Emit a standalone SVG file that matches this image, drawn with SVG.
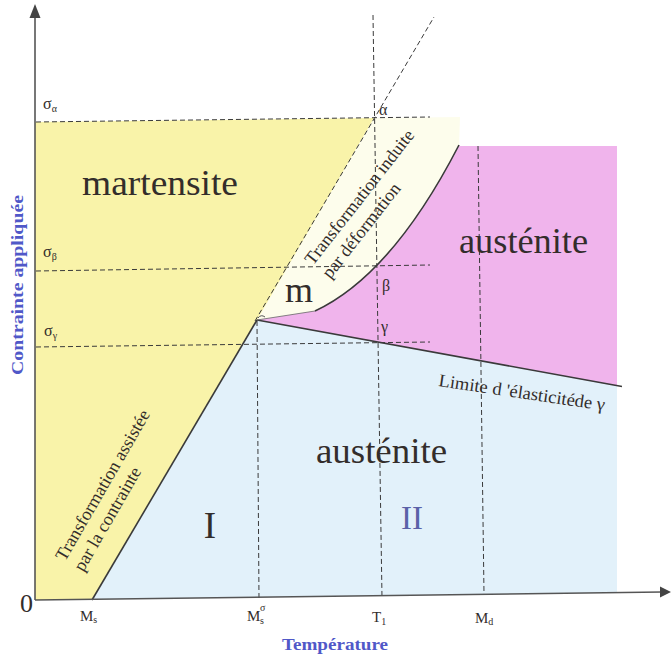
<svg xmlns="http://www.w3.org/2000/svg" width="671" height="660" viewBox="0 0 671 660">
<defs>
<style>
.t{font-family:"Liberation Serif","DejaVu Serif",serif;fill:#332d2b}
.big{font-size:35px}
.sym{font-size:16px}
.sub{font-size:10px}
.lab{font-size:18px}
.blue{font-family:"Liberation Serif","DejaVu Serif",serif;font-weight:bold;fill:#5058c8}
.dash{stroke:#3a3a3a;stroke-width:1;stroke-dasharray:5,3;fill:none}
.solid{stroke:#3a3a3a;stroke-width:1.6;fill:none}
.axis{stroke:#555;stroke-width:1.6;fill:none}
</style>
</defs>
<rect x="0" y="0" width="671" height="660" fill="#ffffff"/>
<g id="regions">
<polygon id="blue-region" points="92,599.5 257,320 617,386 617,592.6" fill="#e2f1fa"/>
<polygon id="cream-region" points="257,320 374,118 460,117 459,146 392,275 315,311" fill="#fdfdec"/>
<path id="pink-region" d="M257,320 L315,311 Q392,275 459,146 L617,146 L617,386 Z" fill="#f0b4ec"/>
<polygon id="yellow-region" points="35,122 374,118 257,320 92,600 35,600" fill="#f9f3a9"/>
</g>
<g id="connectors">
<line class="dash" x1="36" y1="122" x2="430" y2="117"/>
<line class="dash" x1="36" y1="271" x2="430" y2="265"/>
<line class="dash" x1="36" y1="347" x2="430" y2="342"/>
<line class="dash" x1="373" y1="15" x2="382" y2="598"/>
<line class="dash" x1="257" y1="321" x2="259" y2="599"/>
<line class="dash" x1="478" y1="146" x2="484" y2="594"/>
<line class="dash" x1="255" y1="321" x2="434" y2="17"/>
<line class="solid" x1="92" y1="600" x2="257" y2="320"/>
<line class="solid" x1="257" y1="320" x2="622" y2="386.5"/>
<path class="solid" d="M315,311 Q392,275 459,145"/>
<path d="M257,320 L315,311" stroke="#666" stroke-width="0.8" fill="none"/>
<path d="M258,318 q3,-4 7,-1" stroke="#555" stroke-width="1" fill="none"/>
<line class="axis" x1="35" y1="600" x2="35" y2="14"/>
<polygon points="35,4 29.5,18 40.5,18" fill="#444"/>
<line class="axis" x1="35" y1="600" x2="662" y2="592"/>
<polygon points="671,592 660,586.5 660,597.5" fill="#444"/>
</g>
<g id="axis-labels">
<text class="t" x="20" y="612" font-size="26">0</text>
<text class="blue" x="335" y="650" font-size="16" text-anchor="middle" textLength="106" lengthAdjust="spacingAndGlyphs">Température</text>
<text class="blue" transform="translate(23,285) rotate(-90)" x="0" y="0" font-size="16" text-anchor="middle" textLength="180" lengthAdjust="spacingAndGlyphs">Contrainte appliquée</text>
<text class="t" x="80" y="621" font-size="15">M<tspan class="sub" dy="2">s</tspan></text>
<text class="t" x="247" y="621" font-size="15">M</text>
<text class="t sub" x="260" y="611">σ</text>
<text class="t sub" x="260" y="624">s</text>
<text class="t" x="372" y="622" font-size="15">T<tspan class="sub" dy="3">1</tspan></text>
<text class="t" x="475" y="623" font-size="15">M<tspan class="sub" dy="2">d</tspan></text>
<text class="t sym" x="43" y="109">σ<tspan class="sub" dy="3">α</tspan></text>
<text class="t sym" x="43" y="257">σ<tspan class="sub" dy="3">β</tspan></text>
<text class="t sym" x="44" y="336">σ<tspan class="sub" dy="3">γ</tspan></text>
<text class="t sym" x="379" y="115">α</text>
<text class="t sym" x="382" y="291">β</text>
<text class="t sym" x="381" y="332">γ</text>
</g>
<g id="martensite">
<text class="t big" x="82" y="195" textLength="156" lengthAdjust="spacingAndGlyphs">martensite</text>
</g>
<g id="austenite-top">
<text class="t big" x="459" y="253" textLength="129" lengthAdjust="spacingAndGlyphs">austénite</text>
</g>
<g id="austenite-bottom">
<text class="t big" x="316" y="463" textLength="131" lengthAdjust="spacingAndGlyphs">austénite</text>
</g>
<g id="m-region">
<text class="t big" x="285" y="302" textLength="28" lengthAdjust="spacingAndGlyphs">m</text>
</g>
<g id="zone-I">
<text class="t" x="210" y="538" font-size="37" text-anchor="middle">I</text>
</g>
<g id="zone-II">
<text x="412" y="529" font-size="33" text-anchor="middle" font-family="Liberation Serif, DejaVu Serif, serif" fill="#5a62a8">II</text>
</g>
<g id="label-induite" transform="translate(313,266) rotate(-52)">
<text class="t lab" x="0" y="0">Transformation induite</text>
<text class="t lab" x="0" y="22">par déformation</text>
</g>
<g id="label-assistee" transform="translate(65,562) rotate(-60)">
<text class="t lab" x="0" y="0">Transformation assistée</text>
<text class="t lab" x="0" y="21">par la contrainte</text>
</g>
<g id="label-limite" transform="translate(438,386) rotate(8.4)">
<text class="t lab" x="0" y="0" textLength="168" lengthAdjust="spacingAndGlyphs">Limite d 'élasticitéde γ</text>
</g>
</svg>
